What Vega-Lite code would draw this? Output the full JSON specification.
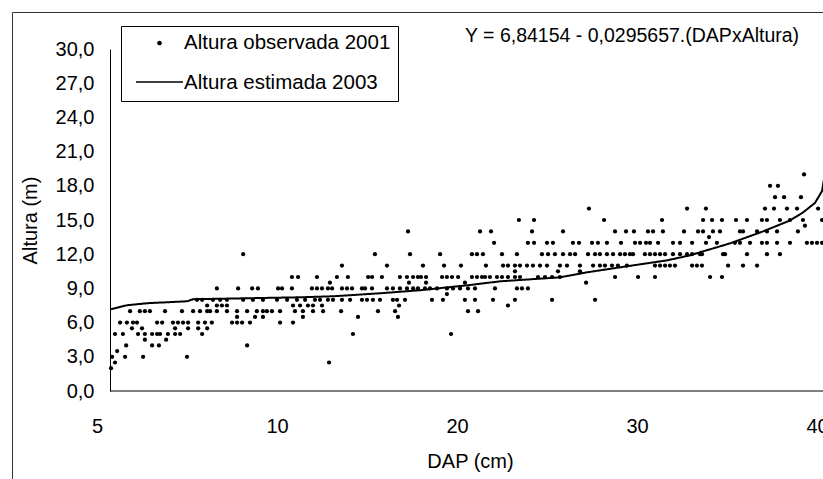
{
  "$schema": "https://vega.github.io/schema/vega-lite/v6.json",
  "width": 811,
  "height": 467,
  "autosize": {"type": "none"},
  "padding": {"left": 12, "top": 12, "right": 0, "bottom": 0},
  "background": "white",
  "title": {
    "text": "Y = 6,84154 - 0,0295657.(DAPxAltura)",
    "anchor": "start",
    "frame": "group",
    "dx": 453,
    "offset": -49,
    "baseline": "alphabetic",
    "fontSize": 19.5,
    "fontWeight": "normal",
    "font": "Liberation Sans",
    "color": "black"
  },
  "config": {
    "font": "Liberation Sans",
    "view": {"stroke": "#333333", "strokeWidth": 1},
    "axis": {"grid": false, "labelColor": "black", "titleColor": "black", "domainColor": "black", "labelFont": "Liberation Sans", "titleFont": "Liberation Sans"}
  },
  "layer": [
    {
      "data": {
        "values": [
          {"dap": 5.39, "altura": 2}, {"dap": 5.5, "altura": 2.5}, {"dap": 12.89, "altura": 2.5},
          {"dap": 5.42, "altura": 3}, {"dap": 5.78, "altura": 3}, {"dap": 6.28, "altura": 3}, {"dap": 7.5, "altura": 3},
          {"dap": 5.56, "altura": 3.5},
          {"dap": 5.81, "altura": 4}, {"dap": 6.53, "altura": 4}, {"dap": 6.72, "altura": 4}, {"dap": 9.17, "altura": 4},
          {"dap": 6.33, "altura": 4.5}, {"dap": 6.92, "altura": 4.5},
          {"dap": 5.5, "altura": 5}, {"dap": 5.72, "altura": 5}, {"dap": 6.14, "altura": 5}, {"dap": 6.33, "altura": 5}, {"dap": 6.53, "altura": 5}, {"dap": 6.67, "altura": 5}, {"dap": 6.75, "altura": 5}, {"dap": 6.97, "altura": 5}, {"dap": 7.17, "altura": 5}, {"dap": 7.31, "altura": 5}, {"dap": 7.92, "altura": 5}, {"dap": 14.22, "altura": 5}, {"dap": 19.67, "altura": 5},
          {"dap": 5.97, "altura": 5.5}, {"dap": 6.25, "altura": 5.5}, {"dap": 7.17, "altura": 5.5}, {"dap": 7.53, "altura": 5.5}, {"dap": 7.81, "altura": 5.5}, {"dap": 8.06, "altura": 5.5},
          {"dap": 5.64, "altura": 6}, {"dap": 5.83, "altura": 6}, {"dap": 6.0, "altura": 6}, {"dap": 6.11, "altura": 6}, {"dap": 6.67, "altura": 6}, {"dap": 6.81, "altura": 6}, {"dap": 7.11, "altura": 6}, {"dap": 7.25, "altura": 6}, {"dap": 7.39, "altura": 6}, {"dap": 7.53, "altura": 6}, {"dap": 7.81, "altura": 6}, {"dap": 8.0, "altura": 6}, {"dap": 8.19, "altura": 6}, {"dap": 8.75, "altura": 6}, {"dap": 8.89, "altura": 6}, {"dap": 9.03, "altura": 6}, {"dap": 9.25, "altura": 6}, {"dap": 10.17, "altura": 6}, {"dap": 10.89, "altura": 6},
          {"dap": 8.89, "altura": 6.5}, {"dap": 9.39, "altura": 6.5}, {"dap": 9.61, "altura": 6.5}, {"dap": 11.44, "altura": 6.5}, {"dap": 14.5, "altura": 6.5}, {"dap": 16.72, "altura": 6.5},
          {"dap": 5.92, "altura": 7}, {"dap": 6.19, "altura": 7}, {"dap": 6.33, "altura": 7}, {"dap": 6.47, "altura": 7}, {"dap": 6.89, "altura": 7}, {"dap": 7.36, "altura": 7}, {"dap": 7.67, "altura": 7}, {"dap": 7.86, "altura": 7}, {"dap": 8.06, "altura": 7}, {"dap": 8.14, "altura": 7}, {"dap": 8.33, "altura": 7}, {"dap": 8.61, "altura": 7}, {"dap": 8.89, "altura": 7}, {"dap": 9.17, "altura": 7}, {"dap": 9.44, "altura": 7}, {"dap": 9.61, "altura": 7}, {"dap": 9.72, "altura": 7}, {"dap": 9.86, "altura": 7}, {"dap": 10.17, "altura": 7}, {"dap": 11.0, "altura": 7}, {"dap": 11.44, "altura": 7}, {"dap": 12.0, "altura": 7}, {"dap": 12.56, "altura": 7}, {"dap": 13.56, "altura": 7}, {"dap": 15.61, "altura": 7}, {"dap": 16.56, "altura": 7}, {"dap": 20.61, "altura": 7}, {"dap": 21.17, "altura": 7},
          {"dap": 8.06, "altura": 7.5}, {"dap": 8.33, "altura": 7.5}, {"dap": 8.47, "altura": 7.5}, {"dap": 8.61, "altura": 7.5}, {"dap": 10.89, "altura": 7.5}, {"dap": 11.28, "altura": 7.5}, {"dap": 11.72, "altura": 7.5}, {"dap": 12.0, "altura": 7.5}, {"dap": 12.5, "altura": 7.5}, {"dap": 16.78, "altura": 7.5}, {"dap": 22.83, "altura": 7.5},
          {"dap": 7.78, "altura": 8}, {"dap": 7.92, "altura": 8}, {"dap": 8.22, "altura": 8}, {"dap": 8.42, "altura": 8}, {"dap": 8.61, "altura": 8}, {"dap": 9.06, "altura": 8}, {"dap": 9.33, "altura": 8}, {"dap": 9.61, "altura": 8}, {"dap": 10.0, "altura": 8}, {"dap": 10.56, "altura": 8}, {"dap": 11.11, "altura": 8}, {"dap": 11.56, "altura": 8}, {"dap": 12.11, "altura": 8}, {"dap": 12.39, "altura": 8}, {"dap": 12.83, "altura": 8}, {"dap": 13.11, "altura": 8}, {"dap": 13.61, "altura": 8}, {"dap": 14.06, "altura": 8}, {"dap": 14.72, "altura": 8}, {"dap": 15.0, "altura": 8}, {"dap": 15.33, "altura": 8}, {"dap": 15.72, "altura": 8}, {"dap": 16.44, "altura": 8}, {"dap": 16.67, "altura": 8}, {"dap": 17.11, "altura": 8}, {"dap": 18.61, "altura": 8}, {"dap": 19.22, "altura": 8}, {"dap": 20.44, "altura": 8}, {"dap": 21.0, "altura": 8}, {"dap": 22.0, "altura": 8}, {"dap": 23.22, "altura": 8}, {"dap": 25.28, "altura": 8}, {"dap": 27.67, "altura": 8},
          {"dap": 19.44, "altura": 8.5},
          {"dap": 8.33, "altura": 9}, {"dap": 8.92, "altura": 9}, {"dap": 9.31, "altura": 9}, {"dap": 9.47, "altura": 9}, {"dap": 10.06, "altura": 9}, {"dap": 10.28, "altura": 9}, {"dap": 10.83, "altura": 9}, {"dap": 11.94, "altura": 9}, {"dap": 12.22, "altura": 9}, {"dap": 12.5, "altura": 9}, {"dap": 12.83, "altura": 9}, {"dap": 13.06, "altura": 9}, {"dap": 13.61, "altura": 9}, {"dap": 13.89, "altura": 9}, {"dap": 14.17, "altura": 9}, {"dap": 14.72, "altura": 9}, {"dap": 14.89, "altura": 9}, {"dap": 15.28, "altura": 9}, {"dap": 16.11, "altura": 9}, {"dap": 16.44, "altura": 9}, {"dap": 16.83, "altura": 9}, {"dap": 17.22, "altura": 9}, {"dap": 17.56, "altura": 9}, {"dap": 17.83, "altura": 9}, {"dap": 18.22, "altura": 9}, {"dap": 18.5, "altura": 9}, {"dap": 18.89, "altura": 9}, {"dap": 19.44, "altura": 9}, {"dap": 19.78, "altura": 9}, {"dap": 20.17, "altura": 9}, {"dap": 20.61, "altura": 9}, {"dap": 21.0, "altura": 9}, {"dap": 22.11, "altura": 9}, {"dap": 23.33, "altura": 9}, {"dap": 23.61, "altura": 9}, {"dap": 23.94, "altura": 9},
          {"dap": 12.94, "altura": 9.5}, {"dap": 17.33, "altura": 9.5}, {"dap": 18.28, "altura": 9.5}, {"dap": 20.44, "altura": 9.5}, {"dap": 27.17, "altura": 9.5},
          {"dap": 10.83, "altura": 10}, {"dap": 11.17, "altura": 10}, {"dap": 12.22, "altura": 10}, {"dap": 13.33, "altura": 10}, {"dap": 13.94, "altura": 10}, {"dap": 15.06, "altura": 10}, {"dap": 15.28, "altura": 10}, {"dap": 15.83, "altura": 10}, {"dap": 16.83, "altura": 10}, {"dap": 17.22, "altura": 10}, {"dap": 17.56, "altura": 10}, {"dap": 17.83, "altura": 10}, {"dap": 18.0, "altura": 10}, {"dap": 18.28, "altura": 10}, {"dap": 19.17, "altura": 10}, {"dap": 19.44, "altura": 10}, {"dap": 19.72, "altura": 10}, {"dap": 20.06, "altura": 10}, {"dap": 20.83, "altura": 10}, {"dap": 21.11, "altura": 10}, {"dap": 21.39, "altura": 10}, {"dap": 21.56, "altura": 10}, {"dap": 21.83, "altura": 10}, {"dap": 22.22, "altura": 10}, {"dap": 22.5, "altura": 10}, {"dap": 22.83, "altura": 10}, {"dap": 23.22, "altura": 10}, {"dap": 23.5, "altura": 10}, {"dap": 24.5, "altura": 10}, {"dap": 24.89, "altura": 10}, {"dap": 25.28, "altura": 10}, {"dap": 25.72, "altura": 10}, {"dap": 28.78, "altura": 10}, {"dap": 30.06, "altura": 10}, {"dap": 31.0, "altura": 10}, {"dap": 34.06, "altura": 10}, {"dap": 34.72, "altura": 10},
          {"dap": 23.22, "altura": 10.5}, {"dap": 25.61, "altura": 10.5}, {"dap": 26.83, "altura": 10.5},
          {"dap": 13.61, "altura": 11}, {"dap": 16.11, "altura": 11}, {"dap": 18.11, "altura": 11}, {"dap": 19.28, "altura": 11}, {"dap": 20.22, "altura": 11}, {"dap": 21.61, "altura": 11}, {"dap": 22.56, "altura": 11}, {"dap": 22.83, "altura": 11}, {"dap": 23.22, "altura": 11}, {"dap": 23.5, "altura": 11}, {"dap": 23.89, "altura": 11}, {"dap": 24.22, "altura": 11}, {"dap": 24.61, "altura": 11}, {"dap": 25.0, "altura": 11}, {"dap": 25.72, "altura": 11}, {"dap": 26.11, "altura": 11}, {"dap": 26.83, "altura": 11}, {"dap": 27.56, "altura": 11}, {"dap": 27.94, "altura": 11}, {"dap": 28.22, "altura": 11}, {"dap": 28.61, "altura": 11}, {"dap": 28.94, "altura": 11}, {"dap": 29.44, "altura": 11}, {"dap": 31.0, "altura": 11}, {"dap": 31.28, "altura": 11}, {"dap": 31.56, "altura": 11}, {"dap": 31.83, "altura": 11}, {"dap": 32.11, "altura": 11}, {"dap": 33.06, "altura": 11}, {"dap": 33.33, "altura": 11}, {"dap": 33.61, "altura": 11}, {"dap": 35.06, "altura": 11}, {"dap": 35.89, "altura": 11}, {"dap": 36.67, "altura": 11},
          {"dap": 9.06, "altura": 12}, {"dap": 15.44, "altura": 12}, {"dap": 17.39, "altura": 12}, {"dap": 19.06, "altura": 12}, {"dap": 20.83, "altura": 12}, {"dap": 21.11, "altura": 12}, {"dap": 21.44, "altura": 12}, {"dap": 22.5, "altura": 12}, {"dap": 23.33, "altura": 12}, {"dap": 24.72, "altura": 12}, {"dap": 25.06, "altura": 12}, {"dap": 25.44, "altura": 12}, {"dap": 25.89, "altura": 12}, {"dap": 26.28, "altura": 12}, {"dap": 26.56, "altura": 12}, {"dap": 27.28, "altura": 12}, {"dap": 27.67, "altura": 12}, {"dap": 27.94, "altura": 12}, {"dap": 28.33, "altura": 12}, {"dap": 28.67, "altura": 12}, {"dap": 29.06, "altura": 12}, {"dap": 29.33, "altura": 12}, {"dap": 29.61, "altura": 12}, {"dap": 29.78, "altura": 12}, {"dap": 30.44, "altura": 12}, {"dap": 30.72, "altura": 12}, {"dap": 31.0, "altura": 12}, {"dap": 31.28, "altura": 12}, {"dap": 31.56, "altura": 12}, {"dap": 32.0, "altura": 12}, {"dap": 32.39, "altura": 12}, {"dap": 32.78, "altura": 12}, {"dap": 33.06, "altura": 12}, {"dap": 33.5, "altura": 12}, {"dap": 33.61, "altura": 12}, {"dap": 34.78, "altura": 12}, {"dap": 34.89, "altura": 12}, {"dap": 36.11, "altura": 12}, {"dap": 37.22, "altura": 12}, {"dap": 37.94, "altura": 12},
          {"dap": 22.06, "altura": 13}, {"dap": 23.94, "altura": 13}, {"dap": 24.28, "altura": 13}, {"dap": 25.0, "altura": 13}, {"dap": 25.33, "altura": 13}, {"dap": 26.44, "altura": 13}, {"dap": 26.78, "altura": 13}, {"dap": 27.5, "altura": 13}, {"dap": 27.83, "altura": 13}, {"dap": 28.33, "altura": 13}, {"dap": 29.11, "altura": 13}, {"dap": 29.89, "altura": 13}, {"dap": 30.17, "altura": 13}, {"dap": 30.5, "altura": 13}, {"dap": 30.72, "altura": 13}, {"dap": 31.17, "altura": 13}, {"dap": 32.0, "altura": 13}, {"dap": 32.39, "altura": 13}, {"dap": 33.06, "altura": 13}, {"dap": 33.83, "altura": 13}, {"dap": 34.44, "altura": 13}, {"dap": 35.44, "altura": 13}, {"dap": 35.72, "altura": 13}, {"dap": 36.28, "altura": 13}, {"dap": 36.94, "altura": 13}, {"dap": 37.22, "altura": 13}, {"dap": 37.78, "altura": 13}, {"dap": 38.5, "altura": 13}, {"dap": 39.44, "altura": 13}, {"dap": 39.72, "altura": 13}, {"dap": 40.0, "altura": 13}, {"dap": 40.28, "altura": 13},
          {"dap": 34.0, "altura": 13.5},
          {"dap": 17.28, "altura": 14}, {"dap": 21.28, "altura": 14}, {"dap": 21.89, "altura": 14}, {"dap": 24.17, "altura": 14}, {"dap": 25.89, "altura": 14}, {"dap": 28.78, "altura": 14}, {"dap": 29.39, "altura": 14}, {"dap": 29.83, "altura": 14}, {"dap": 30.61, "altura": 14}, {"dap": 30.89, "altura": 14}, {"dap": 31.44, "altura": 14}, {"dap": 32.61, "altura": 14}, {"dap": 33.39, "altura": 14}, {"dap": 33.67, "altura": 14}, {"dap": 34.22, "altura": 14}, {"dap": 34.61, "altura": 14}, {"dap": 35.72, "altura": 14}, {"dap": 35.89, "altura": 14}, {"dap": 36.67, "altura": 14}, {"dap": 37.22, "altura": 14}, {"dap": 37.78, "altura": 14}, {"dap": 38.94, "altura": 14},
          {"dap": 39.33, "altura": 14.5},
          {"dap": 23.44, "altura": 15}, {"dap": 24.28, "altura": 15}, {"dap": 28.17, "altura": 15}, {"dap": 31.39, "altura": 15}, {"dap": 33.67, "altura": 15}, {"dap": 34.17, "altura": 15}, {"dap": 34.72, "altura": 15}, {"dap": 35.5, "altura": 15}, {"dap": 36.11, "altura": 15}, {"dap": 36.94, "altura": 15}, {"dap": 37.22, "altura": 15}, {"dap": 37.94, "altura": 15}, {"dap": 38.5, "altura": 15}, {"dap": 39.22, "altura": 15}, {"dap": 40.28, "altura": 15},
          {"dap": 27.33, "altura": 16}, {"dap": 32.78, "altura": 16}, {"dap": 33.83, "altura": 16}, {"dap": 37.11, "altura": 16}, {"dap": 37.61, "altura": 16}, {"dap": 38.33, "altura": 16}, {"dap": 38.89, "altura": 16}, {"dap": 40.06, "altura": 16},
          {"dap": 37.67, "altura": 17}, {"dap": 38.17, "altura": 17}, {"dap": 39.11, "altura": 17},
          {"dap": 37.39, "altura": 18}, {"dap": 37.83, "altura": 18},
          {"dap": 39.28, "altura": 19}
        ]
      },
      "mark": {"type": "point", "filled": true, "size": 18, "opacity": 1},
      "encoding": {
        "x": {
          "field": "dap", "type": "quantitative",
          "scale": {"domain": [5, 10, 20, 30, 40, 40.75], "range": [85, 265, 445, 625, 805, 818.5], "nice": false, "zero": false},
          "axis": {
            "values": [5, 10, 20, 30, 40], "format": "d", "ticks": false, "tickSize": 0, "domain": false,
            "labelPadding": 25, "labelFontSize": 20, "labelFlush": false, "labelOverlap": false, "labelBound": false,
            "offset": -88, "title": "DAP (cm)", "titleFontSize": 20, "titleFontWeight": "normal",
            "titleX": 458, "titleY": 76, "titleBaseline": "alphabetic"
          }
        },
        "y": {
          "field": "altura", "type": "quantitative",
          "scale": {"domain": [0, 30], "range": [379, 37], "nice": false, "zero": false},
          "axis": {
            "values": [0, 3, 6, 9, 12, 15, 18, 21, 24, 27, 30],
            "labelExpr": "replace(format(datum.value, '.1f'), '.', ',')",
            "ticks": false, "tickSize": 0, "labelPadding": 16, "labelFontSize": 20,
            "domain": true, "domainWidth": 1, "offset": -98,
            "title": "Altura (m)", "titleFontSize": 20, "titleFontWeight": "normal",
            "titleX": -80, "titleBaseline": "middle"
          }
        },
        "color": {
          "datum": "Altura observada 2001",
          "scale": {"domain": ["Altura observada 2001", "Altura estimada 2003"], "range": ["black", "transparent"]},
          "legend": {
            "title": null, "orient": "none", "legendX": 109, "legendY": 14,
            "direction": "vertical", "columns": 1, "padding": 7,
            "strokeColor": "black", "fillColor": "white", "cornerRadius": 0,
            "clipHeight": 20, "rowPadding": 19, "symbolOffset": 7, "labelOffset": 0,
            "symbolSize": 2209, "symbolStrokeWidth": 1.5,
            "symbolType": "M-0.1,0A0.1,0.1,0,1,0,0.1,0A0.1,0.1,0,1,0,-0.1,0Z",
            "labelFontSize": 20.5, "labelColor": "black", "labelFont": "Liberation Sans", "labelLimit": 0
          }
        }
      }
    },
    {
      "data": {
        "values": [
          {"dap": 5.39, "altura": 7.17}, {"dap": 5.83, "altura": 7.52}, {"dap": 6.39, "altura": 7.7},
          {"dap": 7.5, "altura": 7.87}, {"dap": 7.67, "altura": 8.05}, {"dap": 11.28, "altura": 8.22},
          {"dap": 13.11, "altura": 8.31}, {"dap": 15.72, "altura": 8.57}, {"dap": 17.94, "altura": 8.84},
          {"dap": 20.56, "altura": 9.27}, {"dap": 22.39, "altura": 9.62}, {"dap": 25.72, "altura": 9.97},
          {"dap": 27.22, "altura": 10.41}, {"dap": 29.78, "altura": 11.02}, {"dap": 31.67, "altura": 11.46},
          {"dap": 32.94, "altura": 11.9}, {"dap": 33.67, "altura": 12.25}, {"dap": 35.17, "altura": 12.95},
          {"dap": 37.0, "altura": 14.0}, {"dap": 38.5, "altura": 14.96}, {"dap": 39.22, "altura": 15.66},
          {"dap": 39.89, "altura": 16.5}, {"dap": 40.28, "altura": 17.54}, {"dap": 40.39, "altura": 18.6}
        ]
      },
      "mark": {"type": "line", "strokeWidth": 2, "color": "black"},
      "encoding": {
        "x": {
          "field": "dap", "type": "quantitative",
          "scale": {"domain": [5, 10, 20, 30, 40, 40.75], "range": [85, 265, 445, 625, 805, 818.5], "nice": false, "zero": false},
          "axis": {
            "values": [5, 10, 20, 30, 40], "format": "d", "ticks": false, "tickSize": 0, "domain": false,
            "labelPadding": 25, "labelFontSize": 20, "labelFlush": false, "labelOverlap": false, "labelBound": false,
            "offset": -88, "title": "DAP (cm)", "titleFontSize": 20, "titleFontWeight": "normal",
            "titleX": 458, "titleY": 76, "titleBaseline": "alphabetic"
          }
        },
        "y": {
          "field": "altura", "type": "quantitative",
          "scale": {"domain": [0, 30], "range": [379, 37], "nice": false, "zero": false},
          "axis": {
            "values": [0, 3, 6, 9, 12, 15, 18, 21, 24, 27, 30],
            "labelExpr": "replace(format(datum.value, '.1f'), '.', ',')",
            "ticks": false, "tickSize": 0, "labelPadding": 16, "labelFontSize": 20,
            "domain": true, "domainWidth": 1, "offset": -98,
            "title": "Altura (m)", "titleFontSize": 20, "titleFontWeight": "normal",
            "titleX": -80, "titleBaseline": "middle"
          }
        },
        "strokeDash": {
          "datum": "Altura estimada 2003",
          "scale": {"domain": ["Altura estimada 2003"], "range": [[1, 0]]},
          "legend": {
            "title": null, "orient": "none", "legendX": 109, "legendY": 53,
            "direction": "vertical", "columns": 1, "padding": 7,
            "strokeColor": null, "fillColor": null,
            "clipHeight": 20, "symbolOffset": 7, "labelOffset": 0,
            "symbolType": "stroke", "symbolSize": 2209, "symbolStrokeWidth": 1.5, "symbolStrokeColor": "black",
            "labelExpr": "''", "labelFontSize": 20.5
          }
        }
      }
    },
    {
      "data": {"values": [{}]},
      "mark": {"type": "rule", "color": "black", "strokeWidth": 1},
      "encoding": {
        "x": {
          "datum": 5.36, "type": "quantitative",
          "scale": {"domain": [5, 10, 20, 30, 40, 40.75], "range": [85, 265, 445, 625, 805, 818.5], "nice": false, "zero": false},
          "axis": {
            "values": [5, 10, 20, 30, 40], "format": "d", "ticks": false, "tickSize": 0, "domain": false,
            "labelPadding": 25, "labelFontSize": 20, "labelFlush": false, "labelOverlap": false, "labelBound": false,
            "offset": -88, "title": "DAP (cm)", "titleFontSize": 20, "titleFontWeight": "normal",
            "titleX": 458, "titleY": 76, "titleBaseline": "alphabetic"
          }
        },
        "x2": {"datum": 40.75},
        "y": {
          "datum": 0, "type": "quantitative",
          "scale": {"domain": [0, 30], "range": [379, 37], "nice": false, "zero": false},
          "axis": {
            "values": [0, 3, 6, 9, 12, 15, 18, 21, 24, 27, 30],
            "labelExpr": "replace(format(datum.value, '.1f'), '.', ',')",
            "ticks": false, "tickSize": 0, "labelPadding": 16, "labelFontSize": 20,
            "domain": true, "domainWidth": 1, "offset": -98,
            "title": "Altura (m)", "titleFontSize": 20, "titleFontWeight": "normal",
            "titleX": -80, "titleBaseline": "middle"
          }
        }
      }
    }
  ]
}
